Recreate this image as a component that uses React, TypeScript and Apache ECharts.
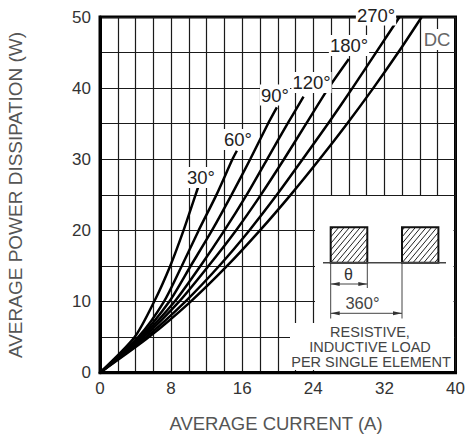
import React, { useEffect, useRef } from "react";
import * as echarts from "echarts";

// ---- data ----
const xTicks = [0, 8, 16, 24, 32, 40];
const yTicks = [0, 10, 20, 30, 40, 50];
const curveNames = ["30°", "60°", "90°", "120°", "180°", "270°", "DC"];

// [average current (A), average power dissipation (W)]
const curve30 = [[0, 0], [3.9, 5], [6.1, 10], [7.9, 15], [9.4, 20], [10.75, 25], [11.05, 26.1]];
const curve60 = [[0, 0], [4.3, 5], [7.2, 10], [9.2, 15], [11.1, 20], [13.1, 25], [14.9, 30], [15.4, 31.2]];
const curve90 = [[0, 0], [4.5, 5], [7.8, 10], [10.2, 15], [12.6, 20], [14.8, 25], [16.9, 30], [18.9, 35], [19.9, 37.3]];
const curve120 = [[0, 0], [4.7, 5], [8.4, 10], [11.3, 15], [14.0, 20], [16.5, 25], [18.8, 30], [21.1, 35], [22.9, 38.8]];
const curve180 = [[0, 0], [4.9, 5], [8.9, 10], [12.2, 15], [15.3, 20], [18.1, 25], [20.7, 30], [23.2, 35], [25.7, 40], [28.0, 44.1]];
const curve270 = [[0, 0], [5.2, 5], [9.6, 10], [13.4, 15], [16.8, 20], [19.9, 25], [22.8, 30], [25.65, 35], [28.4, 40], [31.05, 45], [33.7, 50]];
const curveDC = [[0, 0], [5.5, 5], [10.2, 10], [14.3, 15], [18.0, 20], [21.45, 25], [24.7, 30], [27.8, 35], [30.75, 40], [33.55, 45], [36.2, 50]];

const curves = [curve30, curve60, curve90, curve120, curve180, curve270, curveDC];

const FONT = "'Liberation Sans', Arial, Helvetica, sans-serif";

function hatch(rx: number, ry: number, w: number, h: number, step: number, slope: number) {
  const out: any[] = [];
  for (let c = -h / slope + step / 2; c < w; c += step) {
    const u1 = Math.max(0, c);
    const u2 = Math.min(w, c + h / slope);
    if (u2 <= u1) continue;
    out.push({
      type: "line",
      z: 6,
      shape: { x1: rx + u1, y1: ry + h - slope * (u1 - c), x2: rx + u2, y2: ry + h - slope * (u2 - c) },
      style: { stroke: "#222", lineWidth: 1 },
    });
  }
  return out;
}

function arrowHead(x: number, y: number, dir: number) {
  return {
    type: "polygon",
    z: 6,
    shape: { points: [[x, y], [x - dir * 9, y - 2], [x - dir * 9, y + 2]] },
    style: { fill: "#333" },
  };
}

export default function App() {
  const ref = useRef<HTMLDivElement>(null);
  useEffect(() => {
    if (!ref.current) return;
    const chart = echarts.init(ref.current, null, { renderer: "svg" });

    const labelPos: [number, number][] = [
      [201, 177.5], [238, 139.5], [275, 95], [311.5, 82.5], [349, 45.5], [376, 15], [437, 39.5],
    ];

    const r1 = { x: 330.7, y: 227.3, w: 36.6, h: 35.4 };
    const r2 = { x: 402.0, y: 227.3, w: 36.4, h: 35.4 };
    const baseY = 262.7;

    const textStyle = (text: string, size: number, fill: string) => ({
      text,
      font: `${size}px ${FONT}`,
      fill,
      align: "center",
      verticalAlign: "middle",
    });

    const graphics: any[] = [
      { type: "rect", z: 1, shape: { x: 315, y: 196, width: 138.5, height: 175 }, style: { fill: "#fff" } },
      { type: "rect", z: 1, shape: { x: 290, y: 323, width: 164, height: 47 }, style: { fill: "#fff" } },
      ...hatch(r1.x, r1.y, r1.w, r1.h, 5.4, 1.2),
      ...hatch(r2.x, r2.y, r2.w, r2.h, 5.4, 1.2),
      { type: "rect", z: 7, shape: { x: r1.x, y: r1.y, width: r1.w, height: r1.h }, style: { fill: "none", stroke: "#111", lineWidth: 2 } },
      { type: "rect", z: 7, shape: { x: r2.x, y: r2.y, width: r2.w, height: r2.h }, style: { fill: "none", stroke: "#111", lineWidth: 2 } },
      { type: "line", z: 7, shape: { x1: 323, y1: baseY, x2: 446, y2: baseY }, style: { stroke: "#444", lineWidth: 1.5 } },
      { type: "line", z: 6, shape: { x1: r1.x, y1: baseY, x2: r1.x, y2: 318.5 }, style: { stroke: "#444", lineWidth: 1 } },
      { type: "line", z: 6, shape: { x1: r1.x + r1.w, y1: baseY, x2: r1.x + r1.w, y2: 288 }, style: { stroke: "#444", lineWidth: 1 } },
      { type: "line", z: 6, shape: { x1: r2.x, y1: baseY, x2: r2.x, y2: 318.5 }, style: { stroke: "#444", lineWidth: 1 } },
      { type: "line", z: 6, shape: { x1: r1.x, y1: 284, x2: r1.x + r1.w, y2: 284 }, style: { stroke: "#444", lineWidth: 1 } },
      arrowHead(r1.x, 284, -1),
      arrowHead(r1.x + r1.w, 284, 1),
      { type: "text", z: 8, x: 348.5, y: 274, style: textStyle("θ", 16, "#333") },
      { type: "line", z: 6, shape: { x1: r1.x, y1: 313.3, x2: r2.x, y2: 313.3 }, style: { stroke: "#444", lineWidth: 1 } },
      arrowHead(r1.x, 313.3, -1),
      arrowHead(r2.x, 313.3, 1),
      { type: "text", z: 8, x: 362.5, y: 302.5, style: textStyle("360°", 16.5, "#444") },
      { type: "text", z: 8, x: 370, y: 331.7, style: textStyle("RESISTIVE,", 14.5, "#444") },
      { type: "text", z: 8, x: 370, y: 346.7, style: textStyle("INDUCTIVE LOAD", 14.5, "#444") },
      { type: "text", z: 8, x: 371, y: 361.7, style: textStyle("PER SINGLE ELEMENT", 14.5, "#444") },
      { type: "text", z: 8, x: 276, y: 423.5, style: textStyle("AVERAGE CURRENT (A)", 18.5, "#555") },
      { type: "text", z: 8, x: 15.8, y: 195, rotation: Math.PI / 2, style: textStyle("AVERAGE POWER DISSIPATION (W)", 19, "#555") },
      ...curveNames.map((name, i) => ({
        type: "text",
        z: 20,
        x: labelPos[i][0],
        y: labelPos[i][1],
        style: {
          ...textStyle(name, 18.5, name === "DC" ? "#666" : "#222"),
          backgroundColor: "#fff",
          padding: [1, 1, 1, 1],
        },
      })),
    ];

    chart.setOption({
      animation: false,
      grid: {
        left: 100,
        top: 17,
        right: 9.5,
        bottom: 65.3,
        show: true,
        borderColor: "#000",
        borderWidth: 3,
        outerBoundsMode: "none",
        containLabel: false,
      },
      xAxis: {
        type: "value",
        min: 0,
        max: 40,
        interval: 2,
        axisLine: { show: true, lineStyle: { color: "#000", width: 3 } },
        axisTick: { show: false },
        axisLabel: {
          formatter: (v: number) => (xTicks.includes(v) ? String(v) : ""),
          fontSize: 17,
          fontFamily: FONT,
          color: "#333",
          margin: 7,
          showMinLabel: true,
          showMaxLabel: true,
        },
        splitLine: { show: true, lineStyle: { color: "#1a1a1a", width: 1.2 } },
      },
      yAxis: {
        type: "value",
        min: 0,
        max: 50,
        interval: 5,
        axisLine: { show: true, lineStyle: { color: "#000", width: 3 } },
        axisTick: { show: false },
        axisLabel: {
          formatter: (v: number) => (yTicks.includes(v) ? String(v) : ""),
          fontSize: 17,
          fontFamily: FONT,
          color: "#333",
          margin: 9,
        },
        splitLine: { show: true, lineStyle: { color: "#1a1a1a", width: 1.2 } },
      },
      series: curves.map((data, i) => ({
        type: "line",
        name: curveNames[i],
        data,
        smooth: 0.25,
        showSymbol: false,
        symbol: "none",
        z: 3,
        lineStyle: { color: "#000", width: 2.5 },
      })),
      graphic: { elements: graphics },
    });

    return () => chart.dispose();
  }, []);

  return (
    <div
      ref={ref}
      style={{ position: "fixed", left: 0, top: 0, width: 465, height: 438, background: "#fff" }}
    />
  );
}
